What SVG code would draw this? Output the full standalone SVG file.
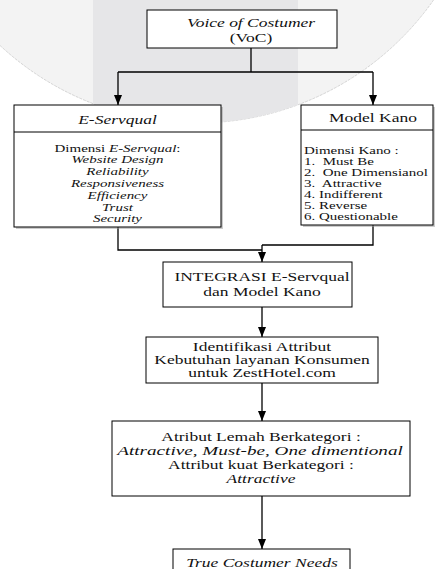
<svg xmlns="http://www.w3.org/2000/svg" width="435" height="569" viewBox="0 0 435 569">
<style>
text{font-family:"Liberation Serif","Times New Roman",serif;font-size:12.5px;fill:#111}
.c{text-anchor:middle}
.s{font-size:10.7px}
.i{font-style:italic}
.box{fill:#fff;stroke:#000;stroke-width:1}
.shadow{fill:#9a9a9a;opacity:0.5}
.ln{fill:none;stroke:#000;stroke-width:1.3}
</style>
<defs>
<clipPath id="circ"><circle cx="197" cy="-166" r="289"/></clipPath>
<marker id="ah" viewBox="0 0 10 8" refX="10" refY="4" markerUnits="userSpaceOnUse" markerWidth="10" markerHeight="8" orient="auto">
<path d="M0,0 L10,4 L0,8 Z" fill="#000"/>
</marker>
</defs>
<g id="watermark">
<circle cx="197" cy="-166" r="289" fill="#f3f3f3" stroke="#c4c4c4" stroke-width="0.7" stroke-dasharray="3 1"/>
<rect x="93" y="0" width="205" height="130" fill="#e6e6e8" clip-path="url(#circ)"/>
</g>
<g id="connectors">
<path class="ln" d="M251,48 V72 M118,72 H373"/>
<path class="ln" d="M118,72 V105" marker-end="url(#ah)"/>
<path class="ln" d="M373,72 V105" marker-end="url(#ah)"/>
<path class="ln" d="M118,227 V250 H262 M373,225 V245 H262"/>
<path class="ln" d="M262,245 V262" marker-end="url(#ah)"/>
<path class="ln" d="M262,307 V337" marker-end="url(#ah)"/>
<path class="ln" d="M262,383 V421" marker-end="url(#ah)"/>
<path class="ln" d="M262,496 V549" marker-end="url(#ah)"/>
</g>
<g id="voc">
<rect class="box" x="147" y="10" width="190" height="38"/>
<text class="c i" transform="matrix(1.4 0 0 1 251 27)">Voice of Costumer</text>
<text class="c" transform="matrix(1.4 0 0 1 251 42)">(VoC)</text>
</g>
<g id="eservqual">
<rect class="shadow" x="16" y="107" width="207" height="122"/>
<rect class="box" x="14" y="105" width="207" height="122"/>
<line x1="14" y1="132" x2="221" y2="132" stroke="#000" stroke-width="1"/>
<text class="c i" transform="matrix(1.4 0 0 1 117.5 124)">E-Servqual</text>
<text class="c s" transform="matrix(1.4 0 0 1 117.5 151.5)">Dimensi <tspan class="i">E-Servqual</tspan>:</text>
<text class="c s i" transform="matrix(1.4 0 0 1 117.5 163.3)">Website Design</text>
<text class="c s i" transform="matrix(1.4 0 0 1 117.5 175.1)">Reliability</text>
<text class="c s i" transform="matrix(1.4 0 0 1 117.5 186.9)">Responsiveness</text>
<text class="c s i" transform="matrix(1.4 0 0 1 117.5 198.7)">Efficiency</text>
<text class="c s i" transform="matrix(1.4 0 0 1 117.5 210.5)">Trust</text>
<text class="c s i" transform="matrix(1.4 0 0 1 117.5 222.3)">Security</text>
</g>
<g id="kano">
<rect class="shadow" x="303" y="107" width="132" height="120"/>
<rect class="box" x="301" y="105" width="132" height="120"/>
<line x1="301" y1="130" x2="433" y2="130" stroke="#000" stroke-width="1"/>
<text class="c" transform="matrix(1.4 0 0 1 373 122)">Model Kano</text>
<text class="s" transform="matrix(1.4 0 0 1 304 153.5)">Dimensi Kano :</text>
<text class="s" transform="matrix(1.4 0 0 1 304 164.5)">1.&#160; Must Be</text>
<text class="s" transform="matrix(1.4 0 0 1 304 175.5)">2.&#160; One Dimensianol</text>
<text class="s" transform="matrix(1.4 0 0 1 304 186.5)">3.&#160; Attractive</text>
<text class="s" transform="matrix(1.4 0 0 1 304 197.5)">4. Indifferent</text>
<text class="s" transform="matrix(1.4 0 0 1 304 208.5)">5. Reverse</text>
<text class="s" transform="matrix(1.4 0 0 1 304 219.5)">6. Questionable</text>
</g>
<g id="integrasi">
<rect class="box" x="163" y="262" width="189" height="45"/>
<text class="c" transform="matrix(1.4 0 0 1 262 281)">INTEGRASI E-Servqual</text>
<text class="c" transform="matrix(1.4 0 0 1 262 296)">dan Model Kano</text>
</g>
<g id="identifikasi">
<rect class="box" x="146" y="337" width="232" height="46"/>
<text class="c" transform="matrix(1.4 0 0 1 262 351)">Identifikasi Attribut</text>
<text class="c" transform="matrix(1.4 0 0 1 262 364)">Kebutuhan layanan Konsumen</text>
<text class="c" transform="matrix(1.4 0 0 1 262 377)">untuk ZestHotel.com</text>
</g>
<g id="atribut">
<rect class="box" x="112" y="421" width="298" height="75"/>
<text class="c" transform="matrix(1.4 0 0 1 261 441)">Atribut Lemah Berkategori :</text>
<text class="c" transform="matrix(1.4 0 0 1 260 455)" textLength="204" lengthAdjust="spacingAndGlyphs"><tspan class="i">Attractive</tspan>, <tspan class="i">Must-be</tspan>, <tspan class="i">One dimentional</tspan></text>
<text class="c" transform="matrix(1.4 0 0 1 261 469)">Attribut kuat Berkategori :</text>
<text class="c i" transform="matrix(1.4 0 0 1 261 483)">Attractive</text>
</g>
<g id="true-needs">
<rect class="box" x="173" y="549" width="177" height="30"/>
<text class="c i" transform="matrix(1.4 0 0 1 262 567)">True Costumer Needs</text>
</g>
</svg>
